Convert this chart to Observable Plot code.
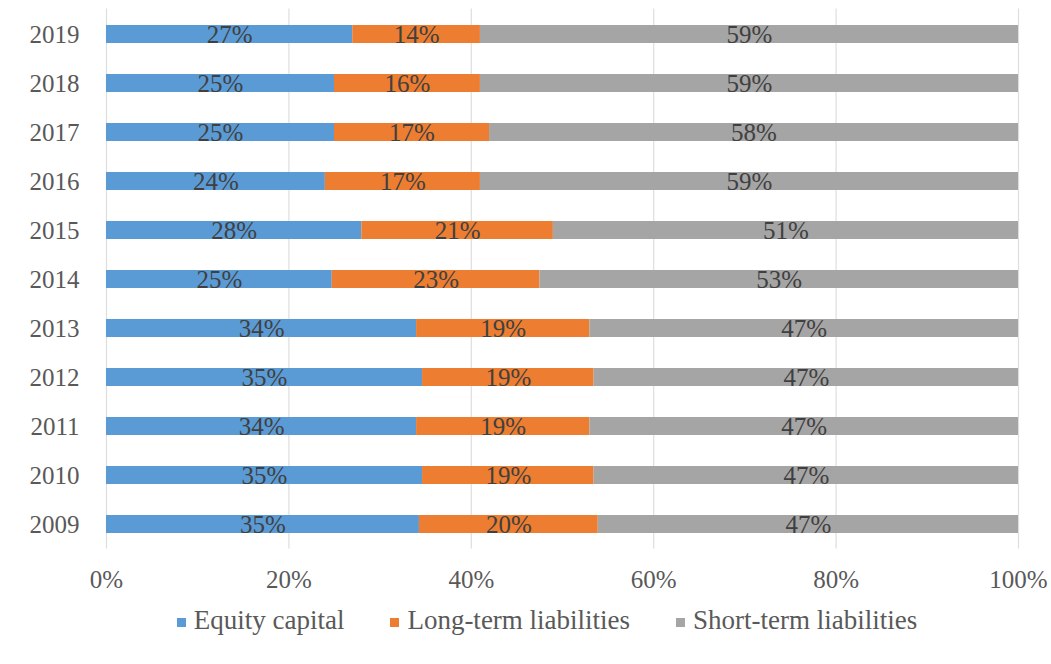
<!DOCTYPE html>
<html>
<head>
<meta charset="utf-8">
<script src="https://cdn.jsdelivr.net/npm/d3@7"></script>
<script src="https://cdn.jsdelivr.net/npm/@observablehq/plot@0.6"></script>
<style>
  body { margin: 0; background: #fff; font-family: "Liberation Serif", "Times New Roman", serif; }
  #chart svg { display: block; }
  .legend { display: flex; justify-content: center; align-items: center; gap: 46px; height: 40px;
            font-size: 27px; color: #595959; margin-left: 43px; }
  .legend span.item { display: flex; align-items: center; }
  .legend i { display: inline-block; width: 9px; height: 9px; margin-right: 8px; margin-top: 4px; }
</style>
</head>
<body>
<div id="chart"></div>
<script>
// Capital structure shares by year (percent of total)
const years = ["2009", "2010", "2011", "2012", "2013", "2014", "2015", "2016", "2017", "2018", "2019"];
const equityCapital = [35, 35, 34, 35, 34, 25, 28, 24, 25, 25, 27];
const longTermLiabilities = [20, 19, 19, 19, 19, 23, 21, 17, 17, 16, 14];
const shortTermLiabilities = [47, 47, 47, 47, 47, 53, 51, 59, 58, 59, 59];
const seriesNames = ["Equity capital", "Long-term liabilities", "Short-term liabilities"];
const seriesColors = ["#5b9bd5", "#ed7d31", "#a5a5a5"];
const xTicks = [0, 0.2, 0.4, 0.6, 0.8, 1];

const seriesValues = [equityCapital, longTermLiabilities, shortTermLiabilities];
const rows = [];
seriesNames.forEach((name, s) => {
  years.forEach((year, i) => rows.push({ year, series: name, value: seriesValues[s][i] }));
});

const stackOpts = { x: "value", y: "year", z: "series", offset: "normalize", order: seriesNames };
const pct = d => Math.round(d * 100) + "%";

const chart = Plot.plot({
  width: 1051,
  height: 600,
  marginLeft: 106,
  marginRight: 33,
  marginTop: 8.5,
  marginBottom: 51.5,
  style: { fontFamily: "'Liberation Serif', 'Times New Roman', serif", fontSize: "25px", background: "#fff" },
  x: { domain: [0, 1], ticks: xTicks, tickFormat: pct, tickSize: 0, tickPadding: 21, label: null },
  y: { domain: years.slice().reverse(), paddingInner: 0.64, paddingOuter: 0.32, tickSize: 0, tickPadding: 27, label: null },
  color: { domain: seriesNames, range: seriesColors },
  marks: [
    Plot.gridX(xTicks, { stroke: "#dedede", strokeOpacity: 1, strokeWidth: 1.2 }),
    Plot.barX(rows, Plot.stackX({ ...stackOpts, fill: "series" })),
    Plot.textX(rows, Plot.stackX({ ...stackOpts, text: d => d.value + "%", fill: "#404040", fontSize: 25 })),
    Plot.axisX({ ticks: xTicks, tickFormat: pct, tickSize: 0, tickPadding: 21, color: "#595959", label: null }),
    Plot.axisY({ tickSize: 0, tickPadding: 27, color: "#595959", label: null })
  ]
});
document.getElementById("chart").appendChild(chart);

// Legend below the plot
const legend = document.createElement("div");
legend.className = "legend";
seriesNames.forEach((name, i) => {
  const item = document.createElement("span");
  item.className = "item";
  const sw = document.createElement("i");
  sw.style.background = seriesColors[i];
  item.appendChild(sw);
  item.appendChild(document.createTextNode(name));
  legend.appendChild(item);
});
document.body.appendChild(legend);
</script>
</body>
</html>
